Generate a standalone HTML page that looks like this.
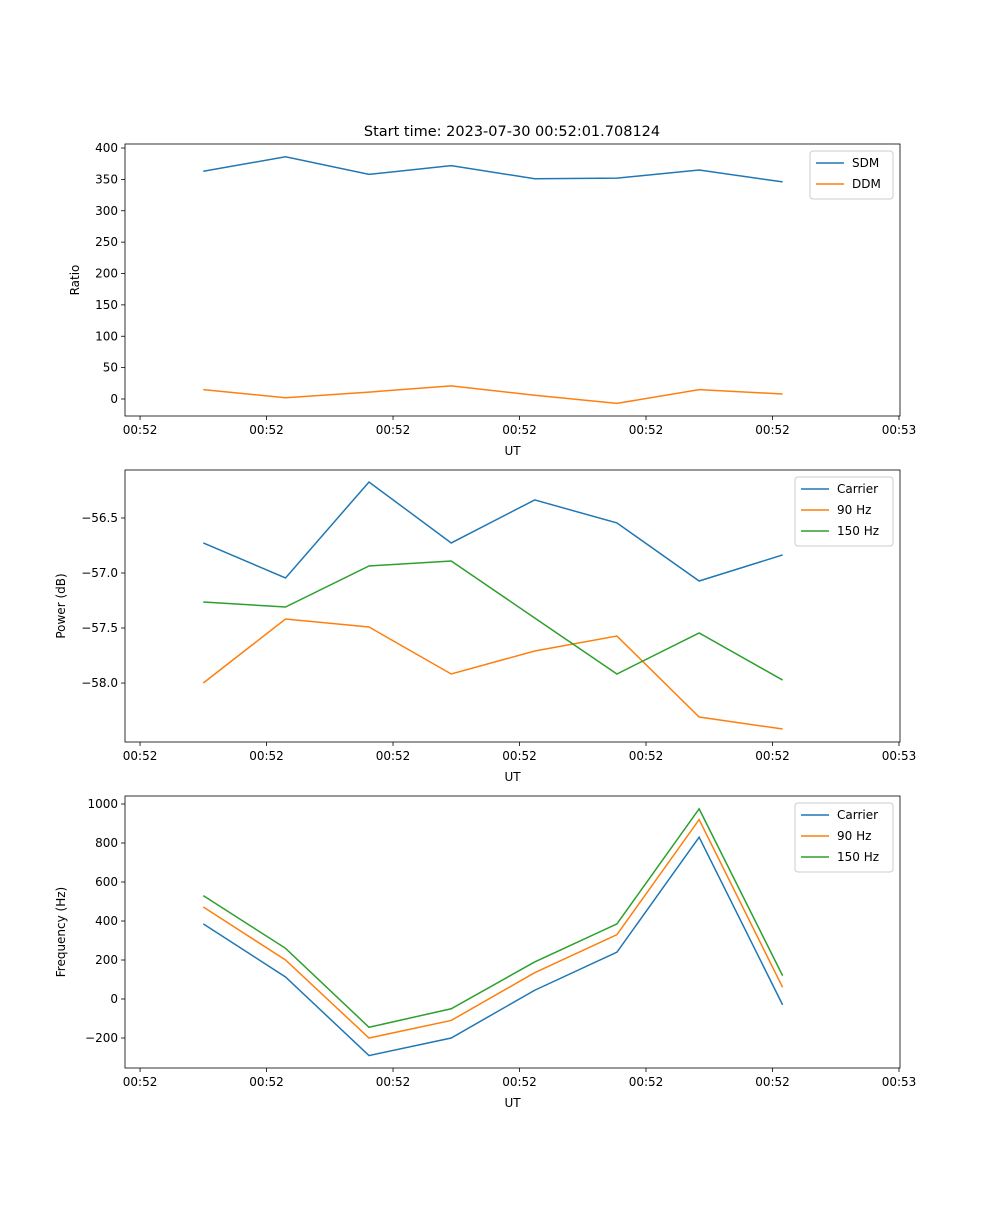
<!DOCTYPE html>
<html><head><meta charset="utf-8"><style>
body{margin:0;background:#fff;}
svg text{font-family:"DejaVu Sans","Liberation Sans",sans-serif;font-size:12px;fill:#000;}
</style></head><body>
<svg id="fig" width="1000" height="1200" xmlns="http://www.w3.org/2000/svg"></svg>
<script>
const times=[0.5,1.15,1.81,2.46,3.12,3.77,4.42,5.08];
const xTickVals=[0,1,2,3,4,5,6];
const xTickLabels=["00:52","00:52","00:52","00:52","00:52","00:52","00:53"];
const sdm=[363,386,358,372,351,352,365,346];
const ddm=[15,2,11,21,6,-7,15,8];
const ratioTicks=[0,50,100,150,200,250,300,350,400];
const pCarrier=[-56.727,-57.045,-56.173,-56.727,-56.336,-56.545,-57.073,-56.836];
const p90=[-58.0,-57.418,-57.491,-57.918,-57.709,-57.573,-58.309,-58.418];
const p150=[-57.264,-57.309,-56.936,-56.891,-57.409,-57.918,-57.545,-57.973];
const powerTicks=[-58.0,-57.5,-57.0,-56.5];
const fCarrier=[385,113,-290,-200,45,240,830,-30];
const f90=[472,200,-200,-110,135,330,920,60];
const f150=[530,260,-145,-50,190,385,975,120];
const freqTicks=[-200,0,200,400,600,800,1000];

const NS="http://www.w3.org/2000/svg";
const svg=document.getElementById('fig');
function mk(tag,attrs,parent){const e=document.createElementNS(NS,tag);for(const k in attrs)e.setAttribute(k,attrs[k]);(parent||svg).appendChild(e);return e;}
const L=125,R=900,xMin=-0.119,xMax=6.008;
const xs=t=>L+(t-xMin)/(xMax-xMin)*(R-L);
const C1="#1f77b4",C2="#ff7f0e",C3="#2ca02c";

function panel(name,top,bot,yMin,yMax,yTicks,fmt,ylabel,series,legW){
  const g=mk('g',{});
  
  
  const ys=v=>bot-(v-yMin)/(yMax-yMin)*(bot-top);
  xTickVals.forEach((v,i)=>{const x=xs(v);
    mk('line',{x1:x,x2:x,y1:bot,y2:bot+4,stroke:'#000','stroke-width':0.8},g);
    const t=mk('text',{x:x,y:bot+18,'text-anchor':'middle'},g);t.textContent=xTickLabels[i];
    
    });
  yTicks.forEach(v=>{const y=ys(v);
    mk('line',{x1:L-4,x2:L,y1:y,y2:y,stroke:'#000','stroke-width':0.8},g);
    const t=mk('text',{x:L-7,y:y+4,'text-anchor':'end'},g);t.textContent=fmt(v);
    
    });
  series.forEach(s=>{
    const p=mk('polyline',{points:s.vals.map((v,i)=>xs(times[i])+','+ys(v)).join(' '),fill:'none',stroke:s.c,'stroke-width':1.5},g);
    
    });
  mk('rect',{x:L,y:top,width:R-L,height:bot-top,fill:'none',stroke:'#000','stroke-width':0.8},g);
  const xl=mk('text',{x:(L+R)/2,y:bot+39,'text-anchor':'middle'},g);xl.textContent='UT';
  
  
  const yl=mk('text',{x:0,y:0,'text-anchor':'middle',transform:`translate(${name==='ratio'?79:65},${(top+bot)/2}) rotate(-90)`},g);yl.textContent=ylabel;
  
  
  const lg=mk('g',{},g);
  
  
  const lx=R-7-legW,ly=top+7,h=series.length*21+6;
  mk('rect',{x:lx,y:ly,width:legW,height:h,rx:3,fill:'#fff',stroke:'#ccc','stroke-width':1},lg);
  series.forEach((s,i)=>{const y=ly+12+i*21;
    mk('line',{x1:lx+6,x2:lx+34,y1:y,y2:y,stroke:s.c,'stroke-width':1.5},lg);
    const t=mk('text',{x:lx+42,y:y+4},lg);t.textContent=s.label;
    
    });
}
const title=mk('text',{x:512,y:136,'text-anchor':'middle'});
title.setAttribute('style','font-size:14.5px');
title.textContent='Start time: 2023-07-30 00:52:01.708124';


panel('ratio',144,416,-27.1,406.4,ratioTicks,v=>String(v),'Ratio',
 [{vals:sdm,c:C1,label:'SDM',n:'sdm-line'},{vals:ddm,c:C2,label:'DDM',n:'ddm-line'}],83);
panel('power',470,742,-58.536,-56.064,powerTicks,v=>(v<0?'−':'')+Math.abs(v).toFixed(1),'Power (dB)',
 [{vals:pCarrier,c:C1,label:'Carrier',n:'carrier-power-line'},{vals:p90,c:C2,label:'90 Hz',n:'90hz-power-line'},{vals:p150,c:C3,label:'150 Hz',n:'150hz-power-line'}],98);
panel('frequency',796,1068,-353.8,1041,freqTicks,v=>(v<0?'−':'')+Math.abs(v),'Frequency (Hz)',
 [{vals:fCarrier,c:C1,label:'Carrier',n:'carrier-freq-line'},{vals:f90,c:C2,label:'90 Hz',n:'90hz-freq-line'},{vals:f150,c:C3,label:'150 Hz',n:'150hz-freq-line'}],98);
</script>
</body></html>
